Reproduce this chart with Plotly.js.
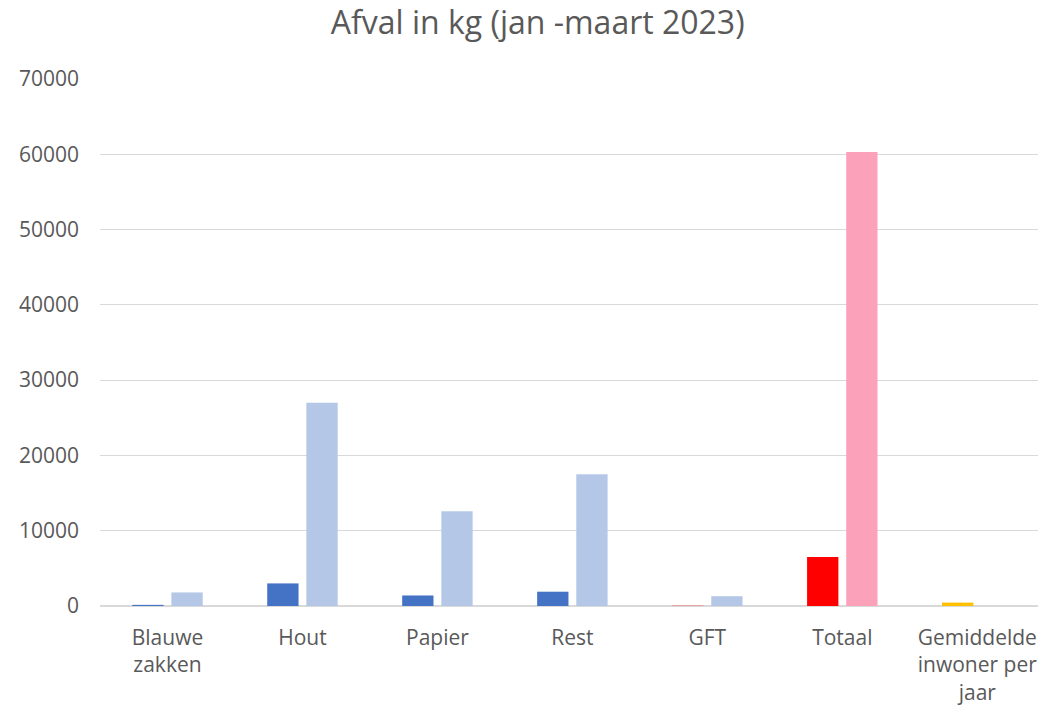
<!DOCTYPE html>
<html>
<head>
<meta charset="utf-8">
<script src="https://cdn.plot.ly/plotly-3.0.1.min.js"></script>
<style>html,body{margin:0;padding:0;background:#fff}#chart{width:1038px;height:708px}</style>
</head>
<body>
<div id="chart"></div>
<script>
const categories = ["Blauwe<br>zakken", "Hout", "Papier", "Rest", "GFT", "Totaal", "Gemiddelde<br>inwoner per<br>jaar"];
const series1Values = [150, 3000, 1400, 1900, 80, 6500, 450];
const series2Values = [1800, 27000, 12600, 17500, 1300, 60300, 120];
const series1Colors = ["#4472C4", "#4472C4", "#4472C4", "#4472C4", "#F08080", "#FF0000", "#FFC000"];
const series2Colors = ["#B4C7E7", "#B4C7E7", "#B4C7E7", "#B4C7E7", "#B4C7E7", "#FBA2BA", "#D9D9D9"];
const yTicks = [0, 10000, 20000, 30000, 40000, 50000, 60000, 70000];

const font = "Open Sans, Liberation Sans, sans-serif";
const data = [
  {type: "bar", x: categories, y: series1Values, marker: {color: series1Colors}, name: "Series 1", hoverinfo: "y"},
  {type: "bar", x: categories, y: series2Values, marker: {color: series2Colors}, name: "Series 2", hoverinfo: "y"}
];
const layout = {
  width: 1038, height: 708,
  margin: {l: 100, r: 0, t: 79, b: 102},
  paper_bgcolor: "#fff", plot_bgcolor: "#fff",
  showlegend: false,
  barmode: "group", bargap: 0.42, bargroupgap: 0.2,
  title: {text: "Afval in kg (jan -maart 2023)", font: {family: font, size: 32, color: "#595959"}, x: 0.518, xanchor: "center", y: 0.968, yanchor: "middle"},
  xaxis: {
    type: "category", range: [-0.5, 6.45],
    showgrid: false, showline: false, zeroline: false, ticks: "",
    tickfont: {family: font, size: 21, color: "#595959"},
    ticklabelstandoff: 17
  },
  yaxis: {
    range: [0, 70000], tickvals: yTicks, ticktext: yTicks.map(String),
    showgrid: true, gridcolor: "#D9D9D9", gridwidth: 1,
    zeroline: true, zerolinecolor: "#D9D9D9", zerolinewidth: 1.5,
    showline: false, ticks: "",
    tickfont: {family: font, size: 21, color: "#595959"},
    ticklabelstandoff: 20
  }
};
Plotly.newPlot("chart", data, layout, {displayModeBar: false, staticPlot: true});
</script>
</body>
</html>
